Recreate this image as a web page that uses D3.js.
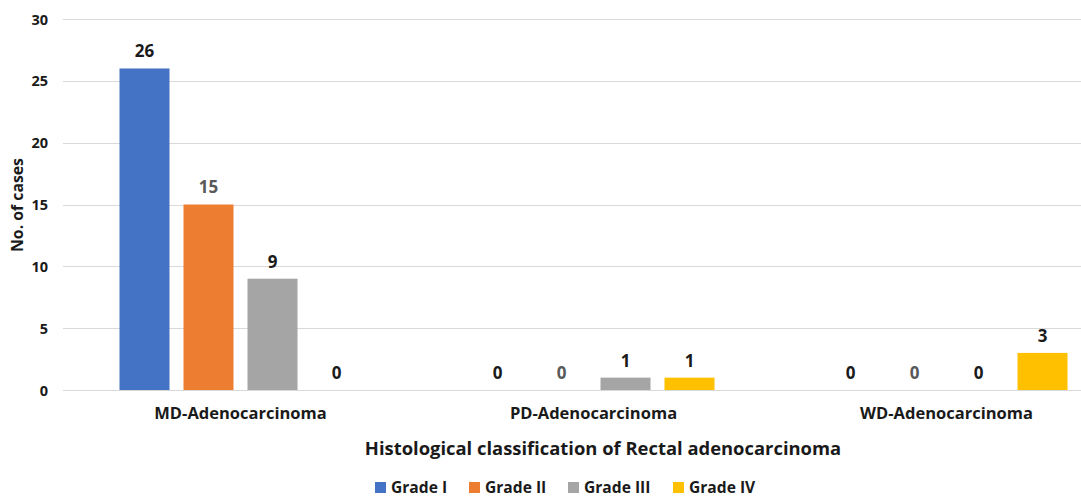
<!DOCTYPE html>
<html><head><meta charset="utf-8">
<script src="https://cdn.jsdelivr.net/npm/d3@7"></script>
<style>body{margin:0;background:#fff}svg{display:block}text{font-family:"Open Sans",sans-serif;font-weight:700}</style>
</head><body>
<script>
const categories = ["MD-Adenocarcinoma","PD-Adenocarcinoma","WD-Adenocarcinoma"];
const seriesNames = ["Grade I","Grade II","Grade III","Grade IV"];
const gradeI = [26,0,0];
const gradeII = [15,0,0];
const gradeIII = [9,1,0];
const gradeIV = [0,1,3];
const yTicks = [0,5,10,15,20,25,30];
const colors = ["#4472C4","#ED7D31","#A5A5A5","#FFC000"];
const labelColors = ["#1a1a1a","#595959","#1a1a1a","#1a1a1a"];
const series = [gradeI,gradeII,gradeIII,gradeIV];

const W=1081,H=499;
const svg=d3.select("body").append("svg").attr("width",W).attr("height",H);
const x=d3.scaleBand().domain(categories).range([64,1123]).paddingInner(0).paddingOuter(0);
const y=d3.scaleLinear().domain([0,30]).range([390,19]);
const x1=d3.scaleBand().domain(seriesNames).range([0,x.bandwidth()]).paddingInner(0.21875).paddingOuter(0.867);

svg.append("g").selectAll("line").data(yTicks).join("line")
 .attr("x1",63).attr("x2",W).attr("y1",d=>Math.round(y(d))+0.5).attr("y2",d=>Math.round(y(d))+0.5)
 .attr("stroke","#d9d9d9").attr("stroke-width",1);

const yAxis=d3.axisLeft(y).tickValues(yTicks).tickSize(0).tickPadding(0);
const ga=svg.append("g").attr("transform","translate(48,0)").call(yAxis);
ga.select(".domain").remove();
ga.selectAll("text").attr("font-size",14.5).attr("font-family","Open Sans").attr("font-weight",700).attr("fill","#1a1a1a").attr("dy","0.35em");

const groups=svg.append("g").selectAll("g").data(series).join("g");
groups.each(function(vals,si){
  const g=d3.select(this);
  g.selectAll("rect").data(vals.map((v,ci)=>({v,c:categories[ci]}))).join("rect")
   .attr("x",d=>x(d.c)+x1(seriesNames[si])).attr("width",x1.bandwidth())
   .attr("y",d=>y(d.v)).attr("height",d=>y(0)-y(d.v)).attr("fill",colors[si]);
  g.selectAll("text").data(vals.map((v,ci)=>({v,c:categories[ci]}))).join("text")
   .attr("x",d=>x(d.c)+x1(seriesNames[si])+x1.bandwidth()/2).attr("y",d=>y(d.v)-17)
   .attr("text-anchor","middle").attr("dy","0.35em").attr("font-size",17).attr("fill",labelColors[si]).text(d=>d.v);
});

const xAxis=d3.axisBottom(x).tickSize(0).tickPadding(0);
const gx=svg.append("g").attr("transform","translate(0,390)").call(xAxis);
gx.select(".domain").remove();
gx.selectAll("text").attr("font-size",16.5).attr("font-family","Open Sans").attr("font-weight",700).attr("fill","#1a1a1a").attr("dy",0).attr("y",29);

svg.append("text").attr("x",603).attr("y",455).attr("text-anchor","middle").attr("font-size",18.4).attr("fill","#1a1a1a")
 .text("Histological classification of Rectal adenocarcinoma");
svg.append("text").attr("transform","translate(23,205) rotate(-90)").attr("text-anchor","middle").attr("font-size",15.8).attr("fill","#1a1a1a")
 .text("No. of cases");

const legX=[375,469,568,673];
const leg=svg.append("g").selectAll("g").data(seriesNames).join("g").attr("transform",(d,i)=>`translate(${legX[i]},482)`);
leg.append("rect").attr("width",11).attr("height",11).attr("fill",(d,i)=>colors[i]);
leg.append("text").attr("x",16).attr("y",6).attr("dy","0.35em").attr("font-size",15.6).attr("fill","#1a1a1a").text(d=>d);
</script>
</body></html>
